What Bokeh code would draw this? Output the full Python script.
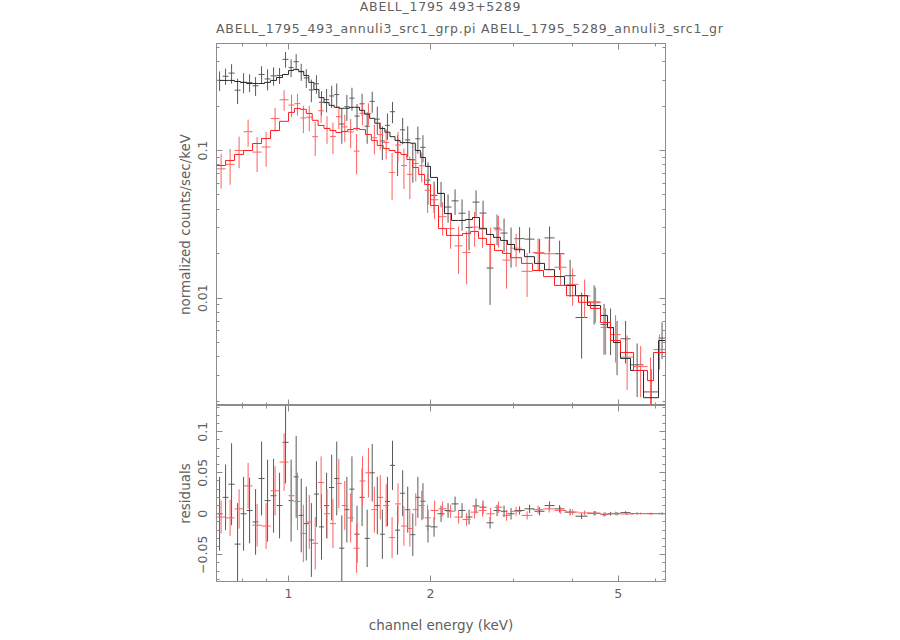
import numpy as np
from bokeh.plotting import figure
from bokeh.models import (ColumnDataSource, Range1d, LogAxis, LinearAxis, FixedTicker, Div,
                          CustomJSTickFormatter)
from bokeh.layouts import column
from bokeh.embed import file_html
from bokeh.resources import INLINE

# ---------------- texts ----------------
title_main = "ABELL_1795 493+5289"
title_files = "ABELL_1795_493_annuli3_src1_grp.pi ABELL_1795_5289_annuli3_src1_gr"
x_label = "channel energy (keV)"
y_label_top = "normalized counts/sec/keV"
y_label_bottom = "residuals"

# ---------------- ticks ----------------
x_ticks = [1, 2, 5]
x_tick_labels = {1: "1", 2: "2", 5: "5"}
x_minor = [0.8, 0.9, 3, 4, 6]
top_y_ticks = [0.01, 0.1]
top_y_tick_labels = {0.01: "0.01", 0.1: "0.1"}
top_y_minor = [0.002, 0.003, 0.004, 0.005, 0.006, 0.007, 0.008, 0.009,
               0.02, 0.03, 0.04, 0.05, 0.06, 0.07, 0.08, 0.09, 0.2, 0.3, 0.4, 0.5]
res_ticks = [-0.05, 0, 0.05, 0.1]
res_tick_labels = {-0.05: "\u22120.05", 0: "0", 0.05: "0.05", 0.1: "0.1"}
res_minor = [-0.08, -0.07, -0.06, -0.04, -0.03, -0.02, -0.01, 0.01, 0.02, 0.03, 0.04,
             0.06, 0.07, 0.08, 0.09, 0.11, 0.12, 0.13]

# ---------------- black data set (ABELL_1795_493) ----------------
black_edges = [0.7037, 0.7246, 0.7461, 0.7683, 0.7911, 0.8147, 0.8389, 0.8638, 0.8895, 0.9159, 0.9431, 0.9711,
               1.0, 1.0251, 1.0508, 1.0771, 1.1041, 1.1318, 1.1601, 1.1892, 1.2190, 1.2496, 1.2809, 1.3130,
               1.3459, 1.3797, 1.4142, 1.4497, 1.4860, 1.5233, 1.5614, 1.6006, 1.6407, 1.6818, 1.7240, 1.7672,
               1.8115, 1.8569, 1.9034, 1.9512,
               2.0, 2.0695, 2.1415, 2.2159, 2.2929, 2.3726, 2.4551, 2.5404, 2.6288, 2.7201, 2.8147, 2.9125,
               3.0138, 3.1645, 3.3229, 3.4891, 3.6637, 3.8470, 4.0593,
               4.3042, 4.5862, 4.7456, 4.8866, 5.0565, 5.3095, 5.6573, 6.0871, 6.2986]
black_model = [0.298, 0.298, 0.298, 0.293, 0.289, 0.284, 0.284, 0.284, 0.289, 0.298, 0.312, 0.327,
               0.348, 0.354, 0.343, 0.322, 0.289, 0.259, 0.228, 0.211, 0.202, 0.196, 0.193, 0.193,
               0.196, 0.196, 0.187, 0.176, 0.165, 0.153, 0.141, 0.133, 0.124, 0.117, 0.113, 0.113,
               0.112, 0.100, 0.0897, 0.0780,
               0.0657, 0.0512, 0.0374, 0.0336, 0.0336, 0.0341, 0.0352, 0.0297, 0.0270, 0.0258, 0.0246, 0.0231,
               0.0213, 0.0191, 0.0172, 0.0156, 0.0140, 0.0122, 0.0104,
               0.00892, 0.00764, 0.00632, 0.00501, 0.00391, 0.00324, 0.00212, 0.00517]
black_data = [0.298, 0.318, 0.334, 0.256, 0.289, 0.288, 0.274, 0.327, 0.305, 0.320, 0.322, 0.414,
              0.364, 0.399, 0.341, 0.310, 0.257, 0.283, 0.212, 0.221, 0.234, 0.239, 0.151, 0.198,
              0.226, 0.171, 0.207, 0.146, 0.215, 0.163, 0.116, 0.148, 0.183, 0.097, 0.138, 0.118,
              0.0865, 0.120, 0.105, 0.063,
              0.0497, 0.0512, 0.0414, 0.0456, 0.0376, 0.0301, 0.0447, 0.0377, 0.0160, 0.0298, 0.0276, 0.0231,
              0.0253, 0.0251, 0.0202, 0.0256, 0.0200, 0.0142, 0.0074,
              0.00942, 0.00664, 0.00632, 0.00501, 0.00531, 0.00354, 0.00232, 0.00537]
black_err = [0.045, 0.040, 0.050, 0.050, 0.045, 0.040, 0.040, 0.045, 0.050, 0.045, 0.040, 0.050,
             0.050, 0.050, 0.045, 0.045, 0.045, 0.040, 0.040, 0.040, 0.040, 0.045, 0.040, 0.040,
             0.040, 0.035, 0.035, 0.035, 0.035, 0.035, 0.030, 0.030, 0.030, 0.030, 0.028, 0.028,
             0.026, 0.025, 0.022, 0.020,
             0.012, 0.010, 0.009, 0.009, 0.009, 0.009, 0.009, 0.008, 0.007, 0.007, 0.007, 0.007,
             0.005, 0.005, 0.005, 0.005, 0.0045, 0.004, 0.0035,
             0.0028, 0.0025, 0.0022, 0.0020, 0.0017, 0.0014, 0.0010, 0.0015]

# ---------------- red data set (ABELL_1795_5289) ----------------
red_edges = [0.7037, 0.7353, 0.7683, 0.8028, 0.8389, 0.8765, 0.9159, 0.9570,
             1.0, 1.0293, 1.0595, 1.0905, 1.1225, 1.1554, 1.1892, 1.2241, 1.2599, 1.2968, 1.3348, 1.3740,
             1.4142, 1.4557, 1.4983, 1.5422, 1.5874, 1.6339, 1.6818, 1.7311, 1.7818, 1.8340, 1.8877, 1.9431,
             2.0, 2.0796, 2.1625, 2.2486, 2.3381, 2.4313, 2.5281, 2.6288, 2.7335, 2.8424,
             2.9556, 3.1186, 3.2906, 3.4721, 3.6636, 3.8846, 4.1190,
             4.3675, 4.5860, 4.8154, 5.0564, 5.3877, 5.7688, 5.9402, 6.2986]
red_model = [0.0791, 0.0856, 0.0940, 0.1000, 0.1115, 0.1206, 0.1365, 0.1575,
             0.181, 0.1925, 0.190, 0.178, 0.160, 0.1477, 0.141, 0.1365, 0.1325, 0.1345, 0.1386, 0.141,
             0.1386, 0.1283, 0.117, 0.1081, 0.1032, 0.100, 0.0969, 0.094, 0.0869, 0.0767, 0.0688, 0.0588,
             0.0424, 0.0296, 0.0266, 0.0266, 0.0274, 0.0283, 0.0254, 0.0231, 0.0210, 0.0201,
             0.0188, 0.0172, 0.0154, 0.0140, 0.0122, 0.0104, 0.00937,
             0.00852, 0.00685, 0.00517, 0.00429, 0.00324, 0.00277, 0.00429]
red_data = [0.0751, 0.0806, 0.100, 0.134, 0.0975, 0.1056, 0.1645, 0.2205,
            0.203, 0.2075, 0.166, 0.168, 0.124, 0.1857, 0.141, 0.1245, 0.1695, 0.1445, 0.1336, 0.099,
            0.1786, 0.1783, 0.122, 0.1281, 0.1132, 0.071, 0.1089, 0.079, 0.0689, 0.0817, 0.0788, 0.0538,
            0.0464, 0.0356, 0.0296, 0.0226, 0.0204, 0.0303, 0.0294, 0.0231, 0.0290, 0.0181,
            0.0218, 0.0152, 0.0204, 0.0200, 0.0162, 0.0124, 0.01037,
            0.00932, 0.00635, 0.00567, 0.00399, 0.00344, 0.00277, 0.00449]
red_err = [0.020, 0.022, 0.024, 0.028, 0.026, 0.028, 0.030, 0.035,
           0.035, 0.035, 0.035, 0.033, 0.032, 0.032, 0.030, 0.030, 0.030, 0.030, 0.030, 0.030,
           0.030, 0.030, 0.028, 0.027, 0.026, 0.025, 0.025, 0.024, 0.022, 0.020, 0.018, 0.016,
           0.012, 0.009, 0.008, 0.008, 0.008, 0.008, 0.0075, 0.007, 0.007, 0.0065,
           0.0055, 0.005, 0.005, 0.0045, 0.004, 0.0035, 0.003,
           0.0025, 0.0022, 0.0020, 0.0016, 0.0013, 0.0012, 0.0012]

# ---------------- styles ----------------
FONT = "DejaVu Sans"
TXT = "#606060"
FRAME = "#8c8c8c"
BLACK_DATA = "#5a5a5a"
BLACK_MODEL = "#2a2a2a"
RED_DATA = "#ff6060"
RED_MODEL = "#ff1f1f"

X_LO, X_HI = 0.7035, 6.298
Y_LO, Y_HI = 0.001877, 0.530
R_LO, R_HI = -0.0826, 0.132
FRAME_W, TOP_H, BOT_H = 449, 362, 176
LEFT, RIGHT = 216, 80
FIG_W = LEFT + FRAME_W + RIGHT
HEADER_H = 41


def make_source(edges, data, err, model):
    e = np.array(edges, dtype=float)
    d = np.array(data, dtype=float)
    s = np.array(err, dtype=float)
    m = np.array(model, dtype=float)
    lo, hi = e[:-1], e[1:]
    r = d - m
    return ColumnDataSource(dict(lo=lo, hi=hi, mid=0.5 * (lo + hi), d=d, dlo=d - s, dhi=d + s,
                                 r=r, rlo=r - s, rhi=r + s))


src_black = make_source(black_edges, black_data, black_err, black_model)
src_red = make_source(red_edges, red_data, red_err, red_model)


def style_axis(ax, ticks, minor, labels=None, standoff=8, orientation="horizontal"):
    ax.ticker = FixedTicker(ticks=ticks, minor_ticks=minor)
    ax.axis_line_color = FRAME
    ax.major_tick_line_color = FRAME
    ax.minor_tick_line_color = FRAME
    ax.major_tick_in = 6
    ax.major_tick_out = 0
    ax.minor_tick_in = 3
    ax.minor_tick_out = 0
    if labels is None:
        ax.formatter = CustomJSTickFormatter(code="return ''")
        ax.major_label_text_font_size = "1px"
        ax.major_label_standoff = 0
    else:
        ax.major_label_overrides = labels
        ax.major_label_text_font = FONT
        ax.major_label_text_font_size = "12.5px"
        ax.major_label_text_color = TXT
        ax.major_label_standoff = standoff
        ax.major_label_orientation = orientation
    ax.axis_label_text_font = FONT
    ax.axis_label_text_font_size = "13.5px"
    ax.axis_label_text_font_style = "normal"
    ax.axis_label_text_color = TXT


# ---------------- header (two title lines) ----------------
header_html = (
    f"<div style='position:relative;width:{FIG_W}px;height:{HEADER_H}px;font-family:\"DejaVu Sans\";"
    f"font-size:12.5px;line-height:14px;letter-spacing:0.75px;color:{TXT};white-space:nowrap;'>"
    f"<div style='position:absolute;left:0;top:0;width:{2 * LEFT + FRAME_W}px;text-align:center;'>{title_main}</div>"
    f"<div style='position:absolute;left:{LEFT}px;top:22px;'>{title_files}</div>"
    "</div>"
)
header = Div(text=header_html, width=FIG_W, height=HEADER_H, margin=0)

X_RANGE = Range1d(X_LO, X_HI)

# ---------------- top panel ----------------
top = figure(x_axis_type="log", y_axis_type="log", x_range=X_RANGE, y_range=Range1d(Y_LO, Y_HI),
             frame_width=FRAME_W, frame_height=TOP_H, min_border_left=LEFT, min_border_right=RIGHT,
             min_border_top=2, min_border_bottom=0, toolbar_location=None, output_backend="svg",
             background_fill_color="white", border_fill_color="white", outline_line_color=FRAME)
top.grid.visible = False
style_axis(top.xaxis[0], x_ticks, x_minor)
style_axis(top.yaxis[0], top_y_ticks, top_y_minor, top_y_tick_labels, standoff=9, orientation="vertical")
top.yaxis[0].axis_label = y_label_top
top.yaxis[0].axis_label_standoff = 3
ax_t = LogAxis()
style_axis(ax_t, x_ticks, x_minor)
top.add_layout(ax_t, "above")
ax_r = LogAxis()
style_axis(ax_r, top_y_ticks, top_y_minor)
top.add_layout(ax_r, "right")

for src, col in ((src_black, BLACK_DATA), (src_red, RED_DATA)):
    top.segment(x0="mid", y0="dlo", x1="mid", y1="dhi", source=src, line_color=col, line_width=1)
    top.segment(x0="lo", y0="d", x1="hi", y1="d", source=src, line_color=col, line_width=1)
top.step(x=black_edges, y=black_model + [black_model[-1]], mode="after", line_color=BLACK_MODEL, line_width=1)
top.step(x=red_edges, y=red_model + [red_model[-1]], mode="after", line_color=RED_MODEL, line_width=1)

# ---------------- residual panel ----------------
bot = figure(x_axis_type="log", x_range=X_RANGE, y_range=Range1d(R_LO, R_HI),
             frame_width=FRAME_W, frame_height=BOT_H, min_border_left=LEFT, min_border_right=RIGHT,
             min_border_top=0, min_border_bottom=0, toolbar_location=None, output_backend="svg",
             background_fill_color="white", border_fill_color="white", outline_line_color=FRAME)
bot.grid.visible = False
style_axis(bot.xaxis[0], x_ticks, x_minor, x_tick_labels, standoff=7)
bot.xaxis[0].axis_label = x_label
bot.xaxis[0].axis_label_standoff = 16
style_axis(bot.yaxis[0], res_ticks, res_minor, res_tick_labels, standoff=9, orientation="vertical")
bot.yaxis[0].axis_label = y_label_bottom
bot.yaxis[0].axis_label_standoff = 3
ax_bt = LogAxis()
style_axis(ax_bt, x_ticks, x_minor)
bot.add_layout(ax_bt, "above")
ax_br = LinearAxis()
style_axis(ax_br, res_ticks, res_minor)
bot.add_layout(ax_br, "right")

for src, col in ((src_black, BLACK_DATA), (src_red, RED_DATA)):
    bot.segment(x0="mid", y0="rlo", x1="mid", y1="rhi", source=src, line_color=col, line_width=1)
    bot.segment(x0="lo", y0="r", x1="hi", y1="r", source=src, line_color=col, line_width=1)

layout = column(header, top, bot)
open("out.html", "w").write(file_html(layout, INLINE, title="ABELL_1795 493+5289"))
